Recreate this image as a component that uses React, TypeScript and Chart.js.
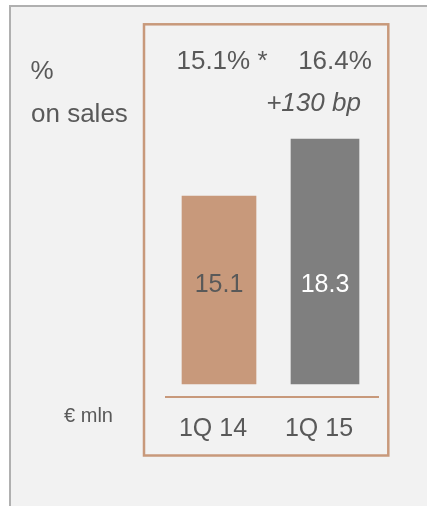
import React, { useEffect, useRef } from "react";
import { Chart, registerables } from "chart.js";

Chart.register(...registerables);

// ---- data ----
const categories = ["1Q 14", "1Q 15"];
const ebitValues = [15.1, 18.3];
const marginLabels = ["15.1% *", "16.4%"];
const deltaLabel = "+130 bp";
const leftLabels = ["%", "on sales"];
const unitLabel = "€ mln";

// ---- styles ----
const barColors = ["#c8997b", "#7f7f7f"];
const valueLabelColors = ["#595959", "#ffffff"];
const barWidths = [74, 68];
const marginOffsets = [3, 10];
const FONT = "'Liberation Sans', Arial, sans-serif";
const TEXT = "#595959";
const ORANGE = "#c8997b";
const BAR_BASE = 4.55;

export default function App() {
  const ref = useRef<HTMLCanvasElement>(null);

  useEffect(() => {
    const canvas = ref.current!;
    const overlay = {
      id: "overlay",
      beforeDraw(chart: any) {
        const ctx = chart.ctx;
        ctx.save();
        ctx.strokeStyle = ORANGE;
        ctx.lineWidth = 2.5;
        ctx.strokeRect(144, 24.3, 244.3, 431.2);
        ctx.restore();
      },
      afterDatasetsDraw(chart: any) {
        const ctx = chart.ctx;
        const xs = chart.scales.x;
        const ys = chart.scales.y;
        ctx.save();
        ctx.textBaseline = "alphabetic";
        ctx.textAlign = "center";
        ctx.font = `25px ${FONT}`;
        const baseY = ys.getPixelForValue(BAR_BASE);
        ebitValues.forEach((v, i) => {
          const bar = chart.getDatasetMeta(i).data[i];
          ctx.fillStyle = valueLabelColors[i];
          ctx.fillText(v.toFixed(1), bar.x, baseY - 92.3);
        });
        ctx.fillStyle = TEXT;
        ctx.font = `26px ${FONT}`;
        marginLabels.forEach((t, i) => {
          ctx.fillText(t, xs.getPixelForValue(i) + marginOffsets[i], 69.3);
        });
        ctx.font = `italic 26px ${FONT}`;
        ctx.fillText(deltaLabel, xs.getPixelForValue(1) - 11.5, 110.7);
        ctx.textAlign = "left";
        ctx.font = `26px ${FONT}`;
        ctx.fillText(leftLabels[0], 30.5, 79.3);
        ctx.fillText(leftLabels[1], 31, 121.7);
        ctx.textAlign = "center";
        ctx.font = `20px ${FONT}`;
        ctx.fillText(unitLabel, 88.5, 421.7);
        ctx.restore();
      },
    };

    const chart = new Chart(canvas, {
      type: "bar",
      data: {
        labels: categories,
        datasets: ebitValues.map((v, i) => ({
          label: categories[i],
          data: ebitValues.map((w, j) => (j === i ? w : null)),
          backgroundColor: barColors[i],
          barThickness: barWidths[i],
          grouped: false,
          base: BAR_BASE,
        })) as any,
      },
      options: {
        responsive: false,
        maintainAspectRatio: false,
        animation: false,
        layout: { padding: { top: 126.5, bottom: 43.5, left: 166, right: 49 } },
        plugins: {
          legend: { display: false },
          tooltip: { enabled: false },
        },
        scales: {
          x: {
            display: true,
            grid: { display: false, drawTicks: false },
            border: { display: true, color: ORANGE, width: 2 },
            ticks: {
              font: { size: 25, family: FONT },
              color: TEXT,
              padding: 18,
              labelOffset: -6,
            },
          },
          y: { display: false, min: 3.85, max: 19 },
        },
      },
      plugins: [overlay],
    });
    return () => chart.destroy();
  }, []);

  return (
    <div
      style={{
        position: "fixed",
        left: 0,
        top: 0,
        width: 427,
        height: 506,
        background: "#ffffff",
        overflow: "hidden",
      }}
    >
      <div
        style={{
          position: "absolute",
          left: 9,
          top: 5,
          right: -10,
          bottom: -10,
          background: "#f2f2f2",
          borderLeft: "2px solid #b0b0b0",
          borderTop: "2px solid #b0b0b0",
        }}
      />
      <canvas
        ref={ref}
        width={427}
        height={506}
        style={{ position: "absolute", left: 0, top: 0 }}
      />
    </div>
  );
}
